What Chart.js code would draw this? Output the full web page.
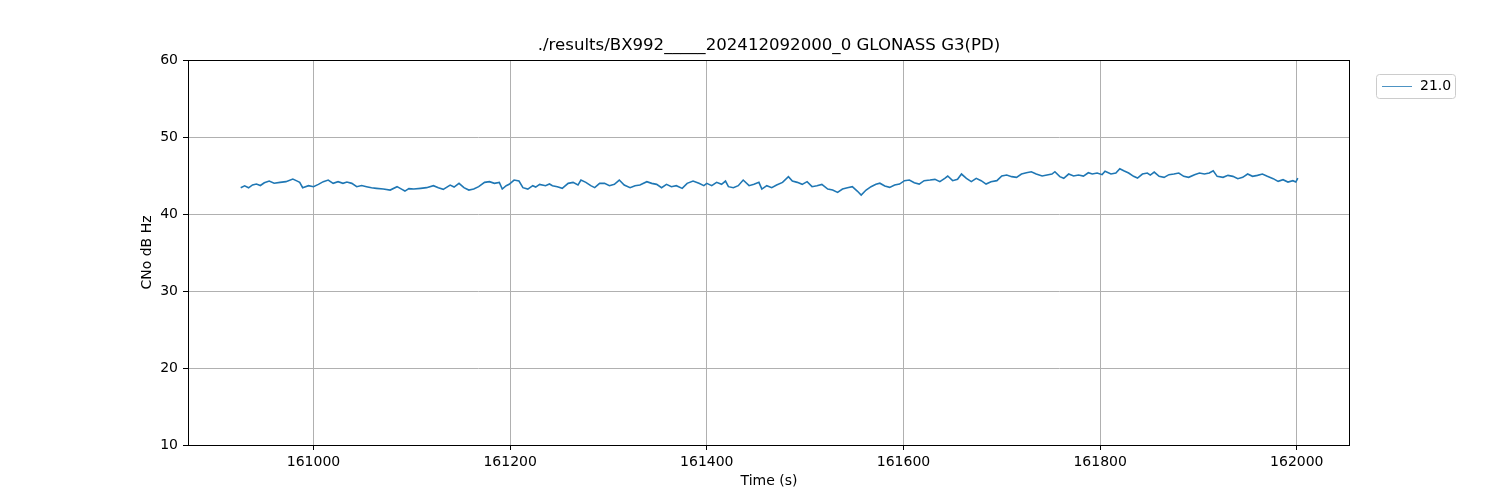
<!DOCTYPE html>
<html>
<head>
<meta charset="utf-8">
<script src="https://cdn.jsdelivr.net/npm/chart.js@4.4.1/dist/chart.umd.min.js"></script>
<style>
    html, body { margin: 0; padding: 0; background: #fff; }
</style>
</head>
<body>
<canvas id="chart" width="1500" height="500"></canvas>
<script>
'use strict';

const TITLE = './results/BX992_____202412092000_0 GLONASS G3(PD)';
const X_LABEL = 'Time (s)';
const Y_LABEL = 'CNo dB Hz';
const SERIES_LABEL = '21.0';

const X_TICKS = [161000, 161200, 161400, 161600, 161800, 162000];
const Y_TICKS = [10, 20, 30, 40, 50, 60];

// time (s) and CNo values
const times = [
    160926, 160930, 160934, 160938, 160942, 160946, 160950, 160955, 160960, 160966,
    160972, 160979, 160983, 160986, 160989, 160995, 161000, 161005, 161010, 161015,
    161020, 161025, 161030, 161034, 161039, 161044, 161049, 161054, 161059, 161064,
    161071, 161078, 161085, 161090, 161093, 161097, 161102, 161109, 161115, 161122,
    161127, 161132, 161139, 161143, 161148, 161153, 161158, 161163, 161168, 161174,
    161179, 161184, 161189, 161192, 161196, 161199, 161204, 161209, 161213, 161218,
    161223, 161226, 161230, 161236, 161240, 161243, 161248, 161253, 161259, 161264,
    161269, 161272, 161277, 161282, 161286, 161291, 161296, 161301, 161306, 161311,
    161316, 161322, 161327, 161332, 161339, 161344, 161349, 161354, 161359, 161364,
    161369, 161375, 161380, 161386, 161392, 161397, 161400, 161405, 161410, 161415,
    161419, 161422, 161427, 161432, 161437, 161443, 161448, 161453, 161456, 161461,
    161466, 161471, 161477, 161483, 161487, 161492, 161497, 161502, 161507, 161512,
    161517, 161523, 161528, 161533, 161538, 161543, 161548, 161553, 161557, 161562,
    161567, 161572, 161576, 161581, 161586, 161591, 161596, 161601, 161606, 161611,
    161616, 161621, 161627, 161632, 161637, 161642, 161645, 161650, 161655, 161659,
    161664, 161669, 161674, 161679, 161684, 161689, 161695, 161700, 161705, 161710,
    161715, 161720, 161725, 161730, 161735, 161741, 161746, 161751, 161754, 161759,
    161763, 161768, 161773, 161778, 161783, 161788, 161792, 161797, 161802, 161805,
    161811, 161816, 161820, 161824, 161829, 161834, 161838, 161843, 161848, 161851,
    161855, 161860, 161865, 161870, 161875, 161880, 161885, 161890, 161896, 161901,
    161906, 161911, 161915, 161919, 161925, 161930, 161935, 161940, 161945, 161950,
    161955, 161960, 161965, 161970, 161976, 161981, 161986, 161991, 161996, 161999,
    162001
];

const cno = [
    43.42, 43.65, 43.40, 43.78, 43.89, 43.70, 44.05, 44.28, 44.00, 44.11,
    44.20, 44.54, 44.30, 44.11, 43.42, 43.68, 43.55, 43.85, 44.20, 44.41,
    43.98, 44.20, 43.98, 44.15, 43.98, 43.55, 43.70, 43.55, 43.40, 43.33,
    43.24, 43.11, 43.55, 43.20, 42.98, 43.30, 43.24, 43.33, 43.42, 43.68,
    43.42, 43.20, 43.76, 43.50, 43.98, 43.42, 43.11, 43.24, 43.55, 44.11,
    44.20, 43.98, 44.11, 43.24, 43.68, 43.85, 44.41, 44.28, 43.42, 43.24,
    43.68, 43.50, 43.85, 43.68, 43.90, 43.68, 43.55, 43.33, 43.98, 44.11,
    43.76, 44.41, 44.11, 43.68, 43.42, 43.98, 43.98, 43.68, 43.85, 44.41,
    43.76, 43.42, 43.68, 43.76, 44.20, 43.98, 43.85, 43.42, 43.85, 43.55,
    43.68, 43.33, 43.98, 44.28, 43.98, 43.68, 43.98, 43.68, 44.11, 43.85,
    44.28, 43.55, 43.42, 43.68, 44.41, 43.68, 43.85, 44.11, 43.24, 43.68,
    43.42, 43.76, 44.11, 44.85, 44.28, 44.11, 43.85, 44.20, 43.55, 43.68,
    43.85, 43.24, 43.11, 42.81, 43.24, 43.42, 43.55, 42.98, 42.46, 43.11,
    43.55, 43.85, 44.00, 43.63, 43.46, 43.76, 43.89, 44.33, 44.41, 44.07,
    43.89, 44.33, 44.41, 44.50, 44.20, 44.63, 44.93, 44.33, 44.50, 45.19,
    44.63, 44.20, 44.63, 44.33, 43.89, 44.20, 44.33, 44.93, 45.06, 44.85,
    44.76, 45.19, 45.36, 45.49, 45.19, 44.93, 45.06, 45.19, 45.49, 44.85,
    44.63, 45.19, 44.93, 45.06, 44.93, 45.36, 45.19, 45.32, 45.11, 45.54,
    45.19, 45.32, 45.88, 45.62, 45.32, 44.89, 44.67, 45.19, 45.32, 45.05,
    45.45, 44.89, 44.76, 45.11, 45.19, 45.32, 44.89, 44.76, 45.11, 45.32,
    45.19, 45.32, 45.62, 44.89, 44.76, 45.02, 44.89, 44.59, 44.76, 45.19,
    44.89, 45.02, 45.19, 44.89, 44.59, 44.24, 44.46, 44.15, 44.33, 44.15,
    44.67
];

const FONT = "'DejaVu Sans', sans-serif";
const LINE_COLOR = '#1f77b4';

// titles, full frame and the outside legend, matplotlib style
const decorations = {
    id: 'decorations',
    afterDraw(chart) {
        const ctx = chart.ctx;
        const a = chart.chartArea;
        ctx.save();

        ctx.strokeStyle = '#000';
        ctx.lineWidth = 1;
        ctx.strokeRect(Math.round(a.left) + 0.5, Math.round(a.top) + 0.5,
            Math.round(a.right - a.left) - 1, Math.round(a.bottom - a.top));

        ctx.fillStyle = '#000';
        ctx.textAlign = 'center';
        ctx.textBaseline = 'middle';
        ctx.font = '16.6px ' + FONT;
        ctx.fillText(TITLE, (a.left + a.right) / 2, 46);

        ctx.font = '14px ' + FONT;
        ctx.fillText(X_LABEL, (a.left + a.right) / 2, 481);

        ctx.save();
        ctx.translate(147, (a.top + a.bottom) / 2);
        ctx.rotate(-Math.PI / 2);
        ctx.fillText(Y_LABEL, 0, 0);
        ctx.restore();

        // legend box
        const bx = 1376.5, by = 74.5, bw = 79, bh = 24, r = 3;
        ctx.beginPath();
        ctx.moveTo(bx + r, by);
        ctx.arcTo(bx + bw, by, bx + bw, by + bh, r);
        ctx.arcTo(bx + bw, by + bh, bx, by + bh, r);
        ctx.arcTo(bx, by + bh, bx, by, r);
        ctx.arcTo(bx, by, bx + bw, by, r);
        ctx.closePath();
        ctx.fillStyle = 'rgba(255,255,255,0.8)';
        ctx.fill();
        ctx.strokeStyle = '#cccccc';
        ctx.lineWidth = 1;
        ctx.stroke();

        ctx.strokeStyle = LINE_COLOR;
        ctx.lineWidth = 0.8;
        ctx.beginPath();
        ctx.moveTo(1382, 86.5);
        ctx.lineTo(1412, 86.5);
        ctx.stroke();

        ctx.fillStyle = '#000';
        ctx.textAlign = 'left';
        ctx.font = '14px ' + FONT;
        ctx.fillText(SERIES_LABEL, 1420, 86);

        ctx.restore();
    }
};

new Chart(document.getElementById('chart'), {
    type: 'line',
    data: {
        datasets: [{
            label: SERIES_LABEL,
            data: times.map((t, i) => ({ x: t, y: cno[i] })),
            borderColor: LINE_COLOR,
            borderWidth: 1.6,
            pointRadius: 0,
            tension: 0,
            fill: false
        }]
    },
    options: {
        responsive: false,
        animation: false,
        layout: { padding: { left: 0, top: 60, right: 150, bottom: 0 } },
        plugins: {
            legend: { display: false },
            title: { display: false },
            tooltip: { enabled: false }
        },
        scales: {
            x: {
                type: 'linear',
                min: 160872.4,
                max: 162054.1,
                afterFit: s => { s.height = 55; },
                afterBuildTicks: s => { s.ticks = X_TICKS.map(v => ({ value: v })); },
                ticks: {
                    includeBounds: false,
                    maxRotation: 0,
                    autoSkip: false,
                    padding: 4,
                    color: '#000',
                    font: { family: FONT, size: 14 },
                    callback: v => String(v)
                },
                grid: { color: '#b0b0b0', lineWidth: 1, tickLength: 5, tickColor: '#000', tickWidth: 1 },
                border: { display: false }
            },
            y: {
                type: 'linear',
                min: 10,
                max: 60,
                afterFit: s => { s.width = 188; },
                afterBuildTicks: s => { s.ticks = Y_TICKS.map(v => ({ value: v })); },
                ticks: {
                    padding: 5,
                    color: '#000',
                    font: { family: FONT, size: 14 },
                    callback: v => String(v)
                },
                grid: { color: '#b0b0b0', lineWidth: 1, tickLength: 5, tickColor: '#000', tickWidth: 1 },
                border: { display: false }
            }
        }
    },
    plugins: [decorations]
});
</script>
</body>
</html>
